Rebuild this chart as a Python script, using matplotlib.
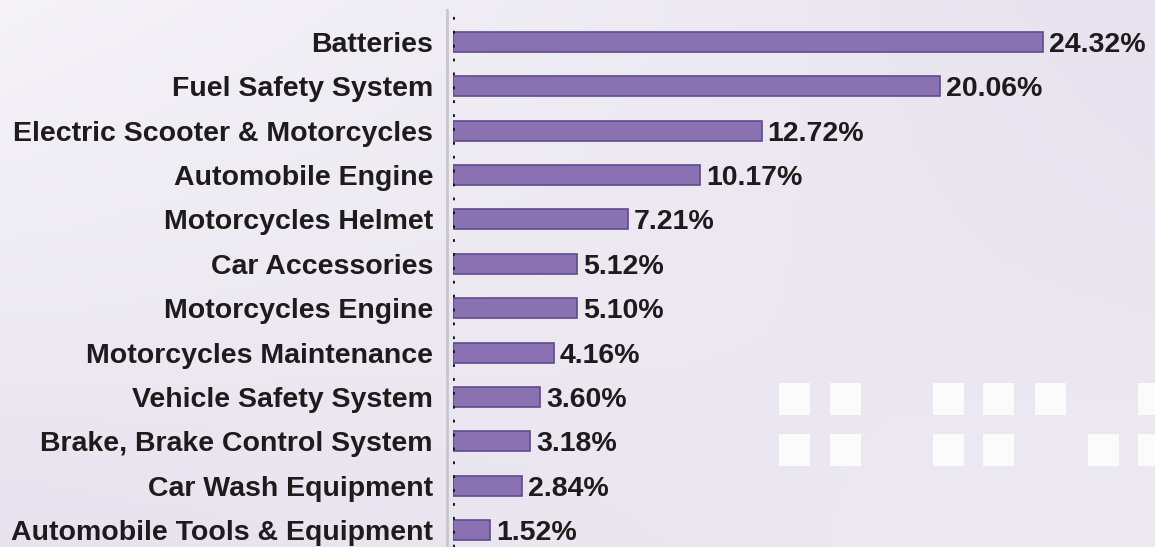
import numpy as np
import matplotlib.pyplot as plt
from matplotlib.patches import Rectangle

categories = ["Batteries", "Fuel Safety System", "Electric Scooter & Motorcycles",
              "Automobile Engine", "Motorcycles Helmet", "Car Accessories",
              "Motorcycles Engine", "Motorcycles Maintenance", "Vehicle Safety System",
              "Brake, Brake Control System", "Car Wash Equipment",
              "Automobile Tools & Equipment"]
shares = [24.32, 20.06, 12.72, 10.17, 7.21, 5.12, 5.10, 4.16, 3.60, 3.18, 2.84, 1.52]

W, H = 1155, 547
fig = plt.figure(figsize=(W / 100, H / 100), dpi=100)

# background: soft lavender gradient with faint white squares
bg = fig.add_axes([0, 0, 1, 1])
gx = np.linspace(0, 1, 200)
gy = np.linspace(0, 1, 100)
X, Y = np.meshgrid(gx, gy)
light = 0.6 * (1 - X) * Y + 0.25 * (1 - Y) * X
base = np.array([0.905, 0.89, 0.935])
img = base + (1 - base) * light[..., None]
bg.imshow(np.clip(img, 0, 1), extent=[0, W, 0, H], origin="lower", aspect="auto")
for row_y, cols in [(132, [779, 830, 933, 983, 1035, 1138]),
                    (81, [779, 830, 933, 983, 1088, 1138])]:
    for cx in cols:
        bg.add_patch(Rectangle((cx, row_y), 31, 32, color="white", alpha=0.85, lw=0))
bg.set_xlim(0, W)
bg.set_ylim(0, H)
bg.axis("off")

x0 = 453
px_per_unit = 24.26
xmax = (W - x0) / px_per_unit
spacing = (530 - 42) / 11
ytop = -42 / spacing
ybot = 11 + (H - 530) / spacing

ax = fig.add_axes([x0 / W, 0, 1 - x0 / W, 1])
ax.patch.set_alpha(0)
pos = np.arange(len(categories))
ax.barh(pos, shares, height=0.45, color="#8a72b2", edgecolor="#5f4a8e", linewidth=1.2)
ax.set_xlim(0, xmax)
ax.set_ylim(ybot, ytop)
for p, v in zip(pos, shares):
    ax.text(v + 0.25, p, f"{v:.2f}%", va="center_baseline", ha="left", fontsize=20.5,
            fontweight="bold", color="#1e1b1c", family="Liberation Sans")
for p, c in zip(pos, categories):
    ax.text(-20 / px_per_unit, p, c, va="center_baseline", ha="right", fontsize=20.5,
            fontweight="bold", color="#1e1b1c", family="Liberation Sans")
ax.axvline(-6 / px_per_unit, ymin=0, ymax=(H - 10) / H, color="#c8c6cc", lw=2, clip_on=False)
ax.axvline(0, ymin=0, ymax=(H - 8) / H, color="#111111", lw=2, ls=(0, (1, 4)))
ax.set_xticks([])
ax.set_yticks([])
for s in ax.spines.values():
    s.set_visible(False)

fig.savefig("out.png", dpi=100)
